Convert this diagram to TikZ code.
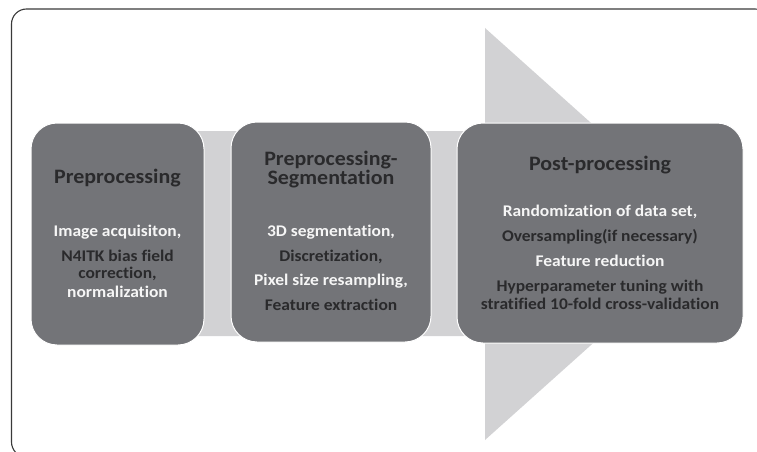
\documentclass[tikz,border=0pt]{standalone}
\usepackage{fontspec}
\setmainfont{Carlito}[FakeStretch=1.07,RawFeature={-liga;-calt;-clig}]
\definecolor{boxfill}{HTML}{737478}
\definecolor{arrowgray}{HTML}{D2D2D4}
\definecolor{darktxt}{HTML}{2A2A2C}
\definecolor{lighttxt}{HTML}{F6F6F6}
\definecolor{framecol}{HTML}{3A3A3A}
\tikzset{
  stagebox/.style={draw=white, line width=1pt, fill=boxfill, rounded corners=26pt, inner sep=0pt},
  headtxt/.style={font=\bfseries\fontsize{20.5}{24}\selectfont, text=darktxt, inner sep=0pt, anchor=center},
  darkline/.style={font=\bfseries\fontsize{16.3}{19}\selectfont, text=darktxt, inner sep=0pt},
  lightline/.style={font=\bfseries\fontsize{16.3}{19}\selectfont, text=lighttxt, inner sep=0pt},
}
\begin{document}
\begin{tikzpicture}[x=1pt,y=-1pt]
\useasboundingbox (0,0) rectangle (757,452);
% outer frame (partly outside the page)
\begin{scope}
  \clip (0,0) rectangle (757,452);
  \draw[framecol, line width=1.1pt, rounded corners=15pt] (11.5,9) rectangle (770,457);
\end{scope}
% big arrow
\fill[arrowgray] (117,131) -- (485,131) -- (485,28) -- (715,234) -- (485,440) -- (485,336) -- (117,336) -- cycle;
% boxes
\node[stagebox, minimum width=173pt, minimum height=222pt] (b1) at (117.5,234) {};
\node[stagebox, minimum width=200pt, minimum height=220pt] (b2) at (331,232) {};
\node[stagebox, minimum width=286pt, minimum height=220pt] (b3) at (600,233) {};
% box 1 texts
\node[headtxt] (h1) at (117.5,178) {Preprocessing};
\node[lightline] (t11) at (117.5,232) {Image acquisiton,};
\node[darkline] (t12) at (117.5,256) {N4ITK bias field};
\node[darkline] (t13) at (117.5,274) {correction,};
\node[lightline] (t14) at (117.5,292) {normalization};
% box 2 texts
\node[headtxt] (h2a) at (331,160) {Preprocessing-};
\node[headtxt] (h2b) at (331,179) {Segmentation};
\node[lightline] (t21) at (331,232) {3D segmentation,};
\node[darkline] (t22) at (331,257) {Discretization,};
\node[lightline] (t23) at (331,281) {Pixel size resampling,};
\node[darkline] (t24) at (331,305) {Feature extraction};
% box 3 texts
\node[headtxt] (h3) at (600,165) {Post-processing};
\node[lightline] (t31) at (600,212) {Randomization of data set,};
\node[darkline] (t32) at (600,237) {Oversampling(if necessary)};
\node[lightline] (t33) at (600,261) {Feature reduction};
\node[darkline] (t34) at (600,287) {Hyperparameter tuning with};
\node[darkline] (t35) at (600,304) {stratified 10-fold cross-validation};
\end{tikzpicture}
\end{document}
